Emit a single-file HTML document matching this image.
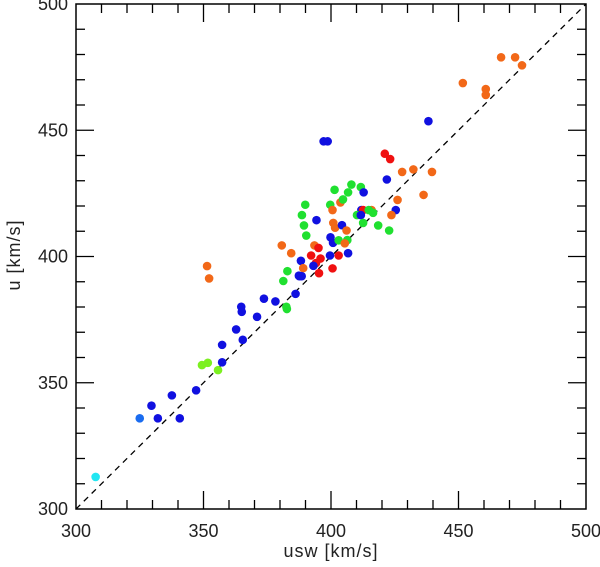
<!DOCTYPE html>
<html><head><meta charset="utf-8"><style>
html,body{margin:0;padding:0;background:#fff;}
svg{display:block;font-family:"Liberation Sans",sans-serif;}
</style></head><body>
<svg id="chart" width="600" height="567" viewBox="0 0 600 567" xmlns="http://www.w3.org/2000/svg">
<g id="ticks"></g>
<line id="diag" stroke="#000" stroke-width="1.3" stroke-dasharray="6,5"/>
<g id="pts"></g>
<rect x="76" y="4" width="510" height="505" fill="none" stroke="#000" stroke-width="1.5"/>
<g id="labels" font-size="18" fill="#222"></g>
<text x="331" y="557" font-size="18" letter-spacing="1" text-anchor="middle" fill="#222">usw [km/s]</text>
<text x="20" y="255" font-size="18" letter-spacing="1" text-anchor="middle" fill="#222" transform="rotate(-90 20 255)">u [km/s]</text>
</svg>
<script>
const xTicks=[300,350,400,450,500];
const yTicks=[300,350,400,450,500];
const usw=[307.7,325,329.6,332.1,337.6,340.7,347.1,349.4,351.7,355.7,357.3,357.3,362.8,365.4,364.8,365,371,373.7,378.2,381.3,382.9,382.5,382.7,386.1,387.4,351.4,352.2,
438.2,397.1,398.7,421.1,423.2,427.9,432.3,439.6,421.9,408,411.7,401.4,406.7,412.8,403.7,404.7,389.9,399.7,400.6,426.1,436.3,411.9,425.4,412.6,415.9,414.8,388.6,410.2,423.7,416.5,411.7,394.3,389.4,400.9,401.6,404.3,412.6,418.5,422.8,406.1,390.3,399.8,400.8,403,406.4,405.4,380.7,393.5,395.1,384.4,406.7,392.2,395.9,403,399.6,388.2,394.1,393.1,389.1,395.3,400.6,387.6,388.5,
466.7,472.2,474.9,451.7,460.7,460.7];
const u=[312.7,335.9,340.9,335.9,345,335.9,347,357,357.9,355,358.1,365,371.1,367,380.1,378.1,376.1,383.3,382.2,390.3,394.2,380.1,379.2,385.2,392.4,396.2,391.3,
453.6,445.6,445.6,440.7,438.6,433.5,434.5,433.5,430.5,428.5,427.5,426.4,425.4,425.4,421.4,422.6,420.5,420.5,418.4,422.4,424.4,418.4,418.4,418.4,418.4,418.4,416.4,416.4,416.4,417.3,416.4,414.4,412.3,413.3,411.4,412.4,413.3,412.3,410.3,410.3,408.3,407.6,405.4,406.4,406.5,405.2,404.4,404.4,403.4,401.3,401.3,400.4,399.2,400.4,400.4,398.3,397.4,396.3,395.4,393.4,395.3,392.2,392.2,
478.9,478.9,475.7,468.7,466.3,464];
const groups=['c','lb','b','b','b','b','b','l','l','l','b','b','b','b','b','b','b','b','b','g','g','g','g','b','b','o','o',
'b','b','b','r','r','o','o','o','b','g','g','g','g','b','o','g','g','g','o','o','o','b','b','r','o','g','g','g','o','g','b','b','g','o','o','b','g','g','g','o','g','b','b','g','g','o','o','o','r','o','b','r','r','r','b','b','r','b','o','r','r','b','b',
'o','o','o','o','o','o'];
const colors={c:'#22e6f2',lb:'#1a6cf0',b:'#1010e0',l:'#7cf020',g:'#20e030',r:'#f01010',o:'#f26818'};
const X0=76,X1=586,Y0=509,Y1=4;
const sx=v=>X0+(v-300)/200*(X1-X0);
const sy=v=>Y0-(v-300)/200*(Y0-Y1);
const NS='http://www.w3.org/2000/svg';
const tg=document.getElementById('ticks'),lg=document.getElementById('labels'),pg=document.getElementById('pts');
function ln(x1,y1,x2,y2,name){const l=document.createElementNS(NS,'line');l.setAttribute('x1',x1);l.setAttribute('y1',y1);l.setAttribute('x2',x2);l.setAttribute('y2',y2);l.setAttribute('stroke','#000');l.setAttribute('stroke-width','1.3');


tg.appendChild(l);}
for(let v=300;v<=500;v+=10){const major=v%50===0;const L=major?18:9;
if(v>300&&v<500){ln(sx(v),Y0,sx(v),Y0-L,'x-tick');ln(sx(v),Y1,sx(v),Y1+L,'x-tick-top');ln(X0,sy(v),X0+L,sy(v),'y-tick');ln(X1,sy(v),X1-L,sy(v),'y-tick-right');}}
xTicks.forEach(v=>{const t=document.createElementNS(NS,'text');t.setAttribute('x',sx(v));t.setAttribute('y',537);t.setAttribute('text-anchor','middle');t.textContent=v;


lg.appendChild(t);});
yTicks.forEach(v=>{const t=document.createElementNS(NS,'text');t.setAttribute('x',68);t.setAttribute('y',sy(v)+6);t.setAttribute('text-anchor','end');t.textContent=v;


lg.appendChild(t);});
const d=document.getElementById('diag');d.setAttribute('x1',sx(300));d.setAttribute('y1',sy(300));d.setAttribute('x2',sx(500));d.setAttribute('y2',sy(500));
usw.forEach((v,i)=>{const c=document.createElementNS(NS,'circle');c.setAttribute('cx',sx(v));c.setAttribute('cy',sy(u[i]));c.setAttribute('r',4.3);c.setAttribute('fill',colors[groups[i]]);


pg.appendChild(c);});
</script>
</body></html>
